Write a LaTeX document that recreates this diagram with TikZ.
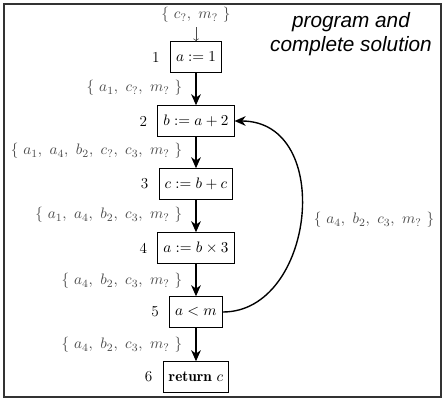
\documentclass[tikz,border=0pt]{standalone}
\usepackage{fontspec}
\newfontfamily\hv{Liberation Sans}
\usetikzlibrary{arrows.meta}
\definecolor{setgray}{gray}{0.3}
\definecolor{framegray}{gray}{0.2}
\begin{document}
\begin{tikzpicture}[x=0.254mm,y=-0.254mm,
  font=\fontsize{11}{13}\selectfont,
  stmt/.style={draw, line width=0.75pt, minimum height=22pt, inner xsep=4pt},
  num/.style={label={[label distance=4pt]left:#1}},
  flow/.style={line width=1pt, -{Stealth[length=8pt,width=7pt,inset=2.5pt]}},
  setlbl/.style={text=setgray, anchor=east}]
\useasboundingbox (0,0) rectangle (445,401);
\draw[framegray, line width=1.2pt] (4,4) rectangle (441,397);

\node[stmt, num=1] (n1) at (196,57) {$a := 1$};
\node[stmt, num=2] (n2) at (196,121) {$b := a + 2$};
\node[stmt, num=3] (n3) at (196,184) {$c := b + c$};
\node[stmt, num=4] (n4) at (196,248) {$a := b \times 3$};
\node[stmt, num=5] (n5) at (196,312) {$a < m$};
\node[stmt, num=6] (n6) at (196,377) {$\mathbf{return}\ c$};

\node[text=setgray] (top) at (196,15) {$\{\ c_?,\ m_?\ \}$};
\draw[setgray, line width=0.4pt, -{To[length=2pt]}] (top) -- (n1);

\node[setlbl] (l1) at (187,88) {$\{\ a_1,\ c_?,\ m_?\ \}$};
\node[setlbl] (l2) at (187,151) {$\{\ a_1,\ a_4,\ b_2,\ c_?,\ c_3,\ m_?\ \}$};
\node[setlbl] (l3) at (187,215) {$\{\ a_1,\ a_4,\ b_2,\ c_3,\ m_?\ \}$};
\node[setlbl] (l4) at (187,281) {$\{\ a_4,\ b_2,\ c_3,\ m_?\ \}$};
\node[setlbl] (l5) at (187,345) {$\{\ a_4,\ b_2,\ c_3,\ m_?\ \}$};
\node[text=setgray] (lr) at (374,220) {$\{\ a_4,\ b_2,\ c_3,\ m_?\ \}$};

\draw[flow] (n1) -- (n2);
\draw[flow] (n2) -- (n3);
\draw[flow] (n3) -- (n4);
\draw[flow] (n4) -- (n5);
\draw[flow] (n5) -- (n6);
\draw[flow] (n5.east) .. controls (315,312) and (335,121) .. (n2.east);

\node[align=center, font=\hv\itshape\fontsize{15}{17.3}\selectfont] (title) at (351,34) {program and\\complete solution};
\end{tikzpicture}
\end{document}
